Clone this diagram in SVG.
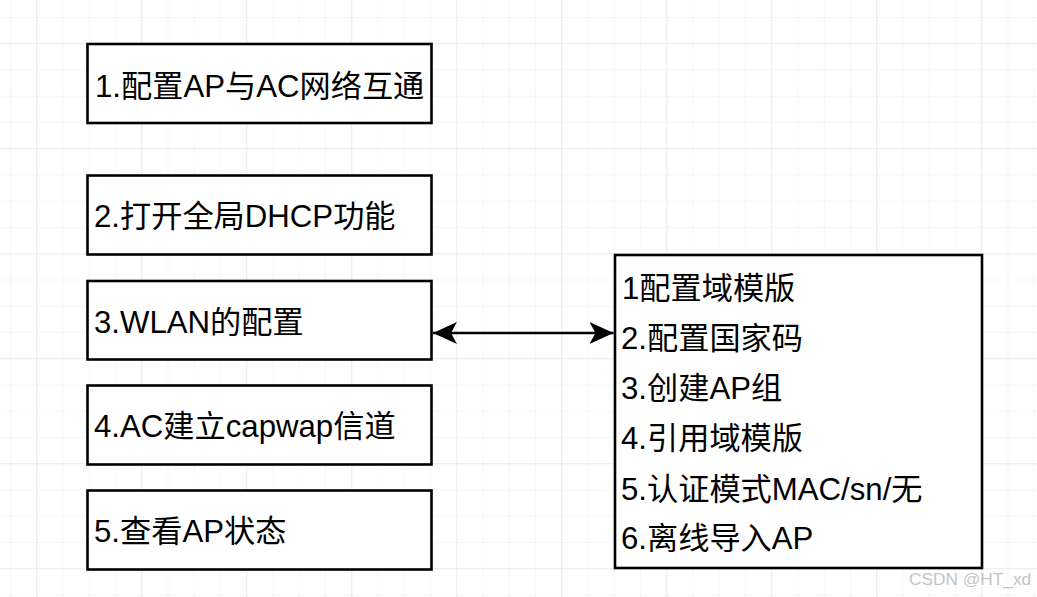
<svg xmlns="http://www.w3.org/2000/svg" width="1037" height="597" viewBox="0 0 1037 597">
<style>
.box{fill:#fff;stroke:#000;stroke-width:2.6}
.t{font-family:"Liberation Sans","Noto Sans CJK SC",sans-serif;font-size:31.2px;fill:#000}
.wm{font-family:"Liberation Sans","Noto Sans",sans-serif;font-size:17.3px;fill:#c4c4c4}
.edge{stroke:#000;stroke-width:2.6;fill:none}
</style>
<defs>
<pattern id="minor" patternUnits="userSpaceOnUse" x="10" y="17" width="26.25" height="26.25">
<path d="M0 0H26.25M0 0V26.25" stroke="#efefef" stroke-width="1" fill="none"/>
</pattern>
<pattern id="major" patternUnits="userSpaceOnUse" x="36.25" y="43.25" width="105" height="105">
<path d="M0 0H105M0 0V105" stroke="#dedede" stroke-width="1" fill="none"/>
</pattern>
<marker id="ah" markerUnits="userSpaceOnUse" markerWidth="26" markerHeight="24" refX="24" refY="12" orient="auto-start-reverse">
<path d="M0 1L24 12L0 23L6 12Z" fill="#000"/>
</marker>
</defs>
<rect width="1037" height="597" fill="#fff"/>
<rect width="1037" height="597" fill="url(#minor)"/>
<rect width="1037" height="597" fill="url(#major)"/>
<g id="n1"><rect class="box" x="87.5" y="44" width="344" height="79"/><text class="t" x="95" y="97">1.配置AP与AC网络互通</text></g>
<g id="n2"><rect class="box" x="87.5" y="175.5" width="344" height="79"/><text class="t" x="94" y="227">2.打开全局DHCP功能</text></g>
<g id="n3"><rect class="box" x="87.5" y="281" width="344" height="78.5"/><text class="t" x="94" y="333">3.WLAN的配置</text></g>
<g id="n4"><rect class="box" x="87.5" y="385.5" width="344" height="79"/><text class="t" x="94" y="437">4.AC建立capwap信道</text></g>
<g id="n5"><rect class="box" x="87.5" y="490.5" width="344" height="79"/><text class="t" x="94" y="542">5.查看AP状态</text></g>
<g id="n6"><rect class="box" x="615" y="255" width="367" height="313"/>
<text class="t" x="622" y="299">1配置域模版</text>
<text class="t" x="621" y="349">2.配置国家码</text>
<text class="t" x="621" y="399">3.创建AP组</text>
<text class="t" x="621" y="449">4.引用域模版</text>
<text class="t" x="621" y="500">5.认证模式MAC/sn/无</text>
<text class="t" x="621" y="549">6.离线导入AP</text>
</g>
<g id="edges"><line class="edge" x1="433" y1="333" x2="613.5" y2="333" marker-start="url(#ah)" marker-end="url(#ah)"/></g>
<text class="wm" x="909" y="585">CSDN @HT_xd</text>
</svg>
